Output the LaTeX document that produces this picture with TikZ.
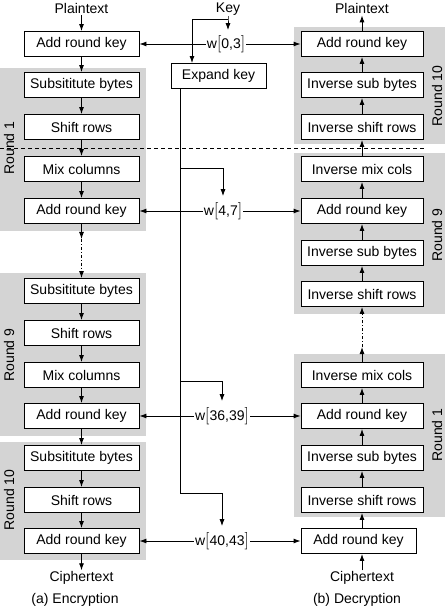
\documentclass[tikz,border=0pt]{standalone}
\usepackage{fontspec}
\setmainfont{Liberation Sans}
\usetikzlibrary{arrows.meta}
\definecolor{roundgray}{gray}{0.83}
\newcommand{\wbr}[1]{{\fontsize{17}{20}\selectfont$#1$}}
\newcommand{\wrange}[1]{w\wbr{\bigl[}#1\wbr{\bigr]}}

\begin{document}
\begin{tikzpicture}[x=1pt,y=1pt,
    font=\fontsize{14}{16}\selectfont,
    every node/.style={inner sep=1pt},
    stepbox/.style={draw,fill=white,line width=0.9pt,minimum width=115pt,minimum height=25pt,inner sep=0pt},
    invbox/.style={stepbox,minimum width=122pt},
    roundlbl/.style={rotate=90},
    arr/.style={-{Latex[length=7pt,width=5pt]},line width=0.9pt},
    link/.style={line width=0.9pt}]
    \useasboundingbox (0,0) rectangle (445,-609);
    \fill [roundgray] (0,-68) rectangle (146,-231);
    \fill [roundgray] (0,-273) rectangle (146,-436);
    \fill [roundgray] (0,-442) rectangle (146,-560);
    \fill [roundgray] (294,-27) rectangle (445,-144);
    \fill [roundgray] (294,-153) rectangle (445,-314);
    \fill [roundgray] (294,-354) rectangle (445,-517);
    \node [roundlbl] (lr1) at (9,-148) {Round 1};
    \node [roundlbl] (lr9) at (9,-355) {Round 9};
    \node [roundlbl] (lr10) at (9,-500) {Round 10};
    \node [roundlbl] (rr10) at (437,-96) {Round 10};
    \node [roundlbl] (rr9) at (437,-235) {Round 9};
    \node [roundlbl] (rr1) at (437,-435) {Round 1};
    \node (pt) at (81.5,-9) {Plaintext};
    \node [stepbox] (e0) at (81.5,-44) {Add round key};
    \node [stepbox] (e1s) at (81.5,-85) {Subsititute bytes};
    \node [stepbox] (e1r) at (81.5,-127) {Shift rows};
    \node [stepbox] (e1m) at (81.5,-169) {Mix columns};
    \node [stepbox] (e1a) at (81.5,-211) {Add round key};
    \node [stepbox] (e9s) at (81.5,-291) {Subsititute bytes};
    \node [stepbox] (e9r) at (81.5,-333) {Shift rows};
    \node [stepbox] (e9m) at (81.5,-375) {Mix columns};
    \node [stepbox] (e9a) at (81.5,-416) {Add round key};
    \node [stepbox] (e10s) at (81.5,-458) {Subsititute bytes};
    \node [stepbox] (e10r) at (81.5,-500) {Shift rows};
    \node [stepbox] (e10a) at (81.5,-541) {Add round key};
    \node (ct) at (81.5,-578) {Ciphertext};
    \node (enc) at (75,-600) {(a) Encryption};
    \node (dpt) at (362,-9) {Plaintext};
    \node [invbox] (d10a) at (362,-44) {Add round key};
    \node [invbox] (d10s) at (362,-85) {Inverse sub bytes};
    \node [invbox] (d10r) at (362,-127) {Inverse shift rows};
    \node [invbox] (d9m) at (362,-169) {Inverse mix cols};
    \node [invbox] (d9a) at (362,-211) {Add round key};
    \node [invbox] (d9s) at (362,-253) {Inverse sub bytes};
    \node [invbox] (d9r) at (362,-294) {Inverse shift rows};
    \node [invbox] (d1m) at (362,-375) {Inverse mix cols};
    \node [invbox] (d1a) at (362,-416) {Add round key};
    \node [invbox] (d1s) at (362,-458) {Inverse sub bytes};
    \node [invbox] (d1r) at (362,-500) {Inverse shift rows};
    \node [stepbox] (d0a) at (358.5,-541) {Add round key};
    \node (dct) at (362,-578) {Ciphertext};
    \node (dec) at (357,-600) {(b) Decryption};
    \node (key) at (228,-9) {Key};
    \node [stepbox,minimum width=95pt] (expand) at (218.5,-76) {Expand key};
    \node (w03) at (226,-44) {\wrange{0,3}};
    \node (w47) at (223,-211) {\wrange{4,7}};
    \node (w3639) at (222,-416) {\wrange{36,39}};
    \node (w4043) at (222,-541) {\wrange{40,43}};
    \coordinate (ksplit) at (228,-19);
    \coordinate (kleft) at (192,-19);
    \coordinate (br47) at (180,-168);
    \coordinate (br3639) at (180,-381);
    \coordinate (trunk) at (180,-493);
    \coordinate (lgap) at (81.5,-239);
    \coordinate (rgap) at (362,-347);
    \draw [arr] (pt) -- (e0);
    \draw [arr] (e0) -- (e1s);
    \draw [arr] (e1s) -- (e1r);
    \draw [arr] (e1r) -- (e1m);
    \draw [arr] (e1m) -- (e1a);
    \draw [arr] (e1a) -- (lgap);
    \draw [arr,dashdotted] (lgap) -- (e9s);
    \draw [arr] (e9s) -- (e9r);
    \draw [arr] (e9r) -- (e9m);
    \draw [arr] (e9m) -- (e9a);
    \draw [arr] (e9a) -- (e10s);
    \draw [arr] (e10s) -- (e10r);
    \draw [arr] (e10r) -- (e10a);
    \draw [arr] (e10a) -- (ct);
    \draw [arr] (dct.north) -- (dct |- d0a.south);
    \draw [arr] (d1r |- d0a.north) -- (d1r);
    \draw [arr] (d1r) -- (d1s);
    \draw [arr] (d1s) -- (d1a);
    \draw [arr] (d1a) -- (d1m);
    \draw [arr] (d1m) -- (rgap);
    \draw [arr,dashdotted] (rgap) -- (d9r);
    \draw [arr] (d9r) -- (d9s);
    \draw [arr] (d9s) -- (d9a);
    \draw [arr] (d9a) -- (d9m);
    \draw [arr] (d9m) -- (d10r);
    \draw [arr] (d10r) -- (d10s);
    \draw [arr] (d10s) -- (d10a);
    \draw [arr] (d10a) -- (dpt);
    \draw [arr,shorten >=4pt] (key.south) -- (ksplit) -- (ksplit |- w03.north);
    \draw [arr] (ksplit) -- (kleft) -- (kleft |- expand.north);
    \draw [link] (expand.south -| trunk) -- (trunk);
    \draw [arr,shorten >=5pt] (br47) -| (w47.north);
    \draw [arr,shorten >=5pt] (br3639) -| (w3639.north);
    \draw [arr,shorten >=5pt] (trunk) -| (w4043.north);
    \draw [arr] (w03.west |- e0) -- (e0);
    \draw [arr] (w03.east |- d10a) -- (d10a);
    \draw [arr] (w47.west |- e1a) -- (e1a);
    \draw [arr] (w47.east |- d9a) -- (d9a);
    \draw [arr] (w3639.west |- e9a) -- (e9a);
    \draw [arr] (w3639.east |- d1a) -- (d1a);
    \draw [arr] (w4043.west |- e10a) -- (e10a);
    \draw [arr] (w4043.east |- d0a) -- (d0a);
    \draw [link,dash pattern=on 4pt off 3pt] (0,-148) -- (425,-148);
\end{tikzpicture}
\end{document}
